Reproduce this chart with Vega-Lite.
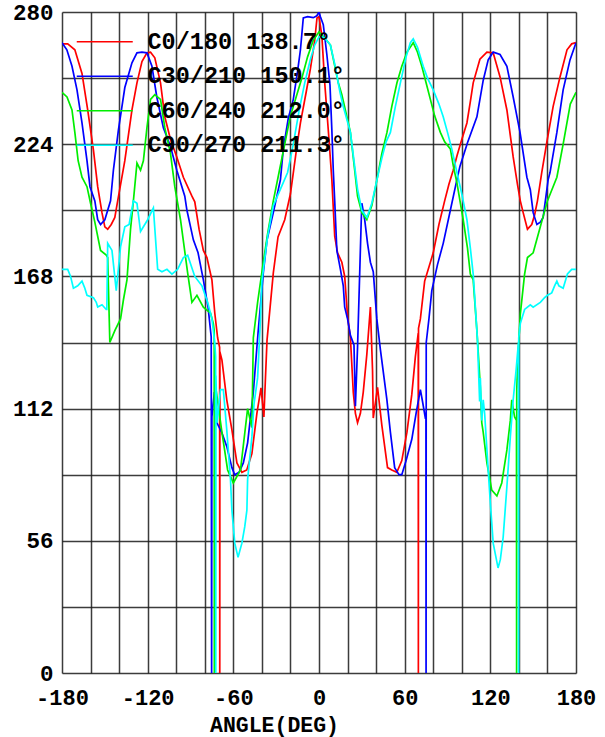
{
  "$schema": "https://vega.github.io/schema/vega-lite/v6.json",
  "width": 514,
  "height": 661,
  "autosize": {"type": "none"},
  "padding": {"left": 62, "top": 12, "right": 29, "bottom": 64},
  "background": "white",
  "config": {
    "view": {"stroke": null},
    "font": "Liberation Mono"
  },
  "datasets": {
    "red": [{"angle":-180,"value":266.5},{"angle":-176,"value":266.5},{"angle":-171,"value":264},{"angle":-166,"value":254},{"angle":-162,"value":238.5},{"angle":-158,"value":221.6},{"angle":-155,"value":206},{"angle":-152,"value":195},{"angle":-150,"value":189},{"angle":-148,"value":188},{"angle":-145.5,"value":190},{"angle":-143,"value":193},{"angle":-141,"value":200},{"angle":-136,"value":217},{"angle":-131,"value":238.5},{"angle":-127.5,"value":250},{"angle":-124,"value":259},{"angle":-120.5,"value":262.7},{"angle":-118,"value":263},{"angle":-115,"value":260.6},{"angle":-111,"value":250},{"angle":-108,"value":235.6},{"angle":-104,"value":226},{"angle":-99.6,"value":218.6},{"angle":-95,"value":210},{"angle":-89,"value":202},{"angle":-87,"value":199.6},{"angle":-84,"value":188},{"angle":-81,"value":179},{"angle":-78.5,"value":176},{"angle":-75,"value":166.5},{"angle":-73,"value":152.5},{"angle":-71,"value":142},{"angle":-69.6,"value":138},{"angle":-69.5,"value":0},{"angle":-69.4,"value":136},{"angle":-68,"value":132.6},{"angle":-64.6,"value":115.7},{"angle":-61,"value":103},{"angle":-57.5,"value":89},{"angle":-54,"value":85},{"angle":-50.6,"value":86},{"angle":-47,"value":93},{"angle":-43.5,"value":110},{"angle":-40.6,"value":120.8},{"angle":-38.6,"value":108.5},{"angle":-37.5,"value":125},{"angle":-36.4,"value":141},{"angle":-32,"value":169.5},{"angle":-28.7,"value":184.7},{"angle":-24,"value":192},{"angle":-20,"value":203},{"angle":-15.5,"value":223},{"angle":-13,"value":233},{"angle":-9,"value":246},{"angle":-6,"value":256},{"angle":-3,"value":268},{"angle":-1.4,"value":277.5},{"angle":0,"value":278},{"angle":2,"value":270},{"angle":4,"value":250},{"angle":7,"value":226},{"angle":9,"value":209},{"angle":11,"value":185},{"angle":13,"value":178},{"angle":16,"value":174},{"angle":18,"value":168},{"angle":20,"value":151},{"angle":22,"value":142},{"angle":24,"value":119},{"angle":25.5,"value":110},{"angle":27,"value":106},{"angle":29,"value":110},{"angle":31,"value":119},{"angle":33.5,"value":135},{"angle":36,"value":155},{"angle":37.5,"value":128},{"angle":38,"value":108},{"angle":41,"value":121},{"angle":44,"value":105},{"angle":48,"value":87},{"angle":51,"value":86},{"angle":54.5,"value":85},{"angle":58,"value":90},{"angle":61.6,"value":102},{"angle":65,"value":118},{"angle":67.5,"value":134},{"angle":69.5,"value":144},{"angle":69.6,"value":0},{"angle":69.7,"value":146},{"angle":71,"value":150},{"angle":74,"value":166},{"angle":77,"value":172},{"angle":80,"value":178},{"angle":84,"value":190},{"angle":88,"value":200},{"angle":91,"value":207},{"angle":94,"value":213},{"angle":96.6,"value":219},{"angle":100,"value":226},{"angle":103.6,"value":233},{"angle":106,"value":242},{"angle":108,"value":250},{"angle":112.7,"value":260},{"angle":117.6,"value":263},{"angle":122,"value":262.7},{"angle":126.8,"value":252.5},{"angle":131.6,"value":238.5},{"angle":136,"value":218.6},{"angle":139,"value":207},{"angle":141,"value":200},{"angle":143,"value":195},{"angle":146,"value":188},{"angle":149,"value":190},{"angle":151,"value":194},{"angle":153,"value":200},{"angle":156,"value":212},{"angle":159.6,"value":225},{"angle":164,"value":240},{"angle":168.8,"value":252.5},{"angle":173.7,"value":264},{"angle":177,"value":266.5},{"angle":180,"value":267}],
    "blue": [{"angle":-180,"value":267},{"angle":-176.6,"value":264},{"angle":-173,"value":257},{"angle":-169.5,"value":247},{"angle":-166,"value":233},{"angle":-162.5,"value":217},{"angle":-160.4,"value":206},{"angle":-157,"value":200},{"angle":-155,"value":192},{"angle":-153,"value":190},{"angle":-150,"value":192},{"angle":-146,"value":200},{"angle":-144,"value":213},{"angle":-140.5,"value":230},{"angle":-136,"value":248},{"angle":-131,"value":258.5},{"angle":-127.5,"value":262.7},{"angle":-124,"value":263},{"angle":-120.5,"value":262.7},{"angle":-117,"value":257},{"angle":-113.6,"value":244},{"angle":-109,"value":231},{"angle":-104,"value":223},{"angle":-99.6,"value":213},{"angle":-94,"value":202},{"angle":-92.5,"value":196},{"angle":-88,"value":183.5},{"angle":-84.7,"value":178},{"angle":-81,"value":166.5},{"angle":-77.7,"value":155},{"angle":-75.5,"value":142.4},{"angle":-75.2,"value":0},{"angle":-75,"value":108.5},{"angle":-73.3,"value":119},{"angle":-71.5,"value":106},{"angle":-68,"value":101.7},{"angle":-64.6,"value":96},{"angle":-61,"value":87},{"angle":-59,"value":84},{"angle":-56,"value":85},{"angle":-53,"value":89},{"angle":-50,"value":97.5},{"angle":-46,"value":119},{"angle":-42.7,"value":144},{"angle":-39,"value":169.5},{"angle":-36.4,"value":183.5},{"angle":-32,"value":195},{"angle":-27,"value":209},{"angle":-25,"value":222},{"angle":-21.5,"value":235},{"angle":-18,"value":243},{"angle":-15,"value":255},{"angle":-13,"value":264},{"angle":-11,"value":277.5},{"angle":-8,"value":278},{"angle":-4,"value":277.6},{"angle":-1.5,"value":278.4},{"angle":0,"value":280},{"angle":1,"value":278},{"angle":3,"value":274.6},{"angle":5.5,"value":262},{"angle":7.7,"value":249},{"angle":9,"value":230},{"angle":10,"value":213},{"angle":11,"value":200},{"angle":12.5,"value":179},{"angle":15,"value":171},{"angle":17,"value":164},{"angle":18,"value":155},{"angle":20,"value":150},{"angle":22,"value":143},{"angle":24.5,"value":139},{"angle":25.5,"value":113},{"angle":27,"value":138},{"angle":29.5,"value":190},{"angle":30,"value":199},{"angle":32,"value":192},{"angle":34,"value":182},{"angle":36,"value":174},{"angle":38,"value":170},{"angle":40.5,"value":150},{"angle":43,"value":137},{"angle":47.5,"value":116},{"angle":50,"value":102},{"angle":53,"value":87},{"angle":56,"value":84},{"angle":58,"value":84},{"angle":61,"value":90},{"angle":65,"value":99},{"angle":68,"value":110},{"angle":71,"value":120},{"angle":72.5,"value":115},{"angle":74.5,"value":108},{"angle":74.9,"value":108},{"angle":75,"value":0},{"angle":75.1,"value":140},{"angle":77,"value":150},{"angle":79,"value":162},{"angle":83,"value":173},{"angle":87,"value":182},{"angle":92,"value":196},{"angle":96.6,"value":209},{"angle":98.7,"value":214.6},{"angle":104,"value":224.6},{"angle":110.6,"value":235.6},{"angle":115,"value":251},{"angle":118.5,"value":259.7},{"angle":122,"value":263},{"angle":126.8,"value":262},{"angle":131.6,"value":257},{"angle":136,"value":244},{"angle":140.8,"value":229},{"angle":145.6,"value":210},{"angle":148,"value":204.7},{"angle":150,"value":195},{"angle":152.6,"value":190},{"angle":155,"value":191},{"angle":157,"value":193},{"angle":160.5,"value":209},{"angle":161.8,"value":212},{"angle":166.6,"value":229},{"angle":171,"value":247},{"angle":175.8,"value":259.7},{"angle":180,"value":267}],
    "green": [{"angle":-180,"value":246},{"angle":-176.5,"value":244},{"angle":-173,"value":238.5},{"angle":-171,"value":229},{"angle":-168.7,"value":217},{"angle":-166,"value":210},{"angle":-162.5,"value":206},{"angle":-160,"value":199},{"angle":-157,"value":191},{"angle":-153,"value":179},{"angle":-149,"value":177},{"angle":-148,"value":176},{"angle":-146.5,"value":140},{"angle":-143,"value":145},{"angle":-139,"value":150},{"angle":-137,"value":158},{"angle":-134.5,"value":166.5},{"angle":-132,"value":188},{"angle":-130,"value":200},{"angle":-127.5,"value":216},{"angle":-125,"value":213},{"angle":-123,"value":217},{"angle":-120.5,"value":231},{"angle":-118,"value":243},{"angle":-115,"value":245},{"angle":-111,"value":243},{"angle":-108,"value":231},{"angle":-104,"value":220},{"angle":-101,"value":206},{"angle":-97,"value":192},{"angle":-92,"value":169.5},{"angle":-89,"value":157},{"angle":-85.5,"value":160},{"angle":-81,"value":155},{"angle":-76,"value":152.5},{"angle":-74,"value":148},{"angle":-73.4,"value":145},{"angle":-73.3,"value":0},{"angle":-73.2,"value":130},{"angle":-73,"value":124},{"angle":-68,"value":102},{"angle":-64,"value":86},{"angle":-60,"value":80.5},{"angle":-55,"value":86},{"angle":-50,"value":112},{"angle":-47,"value":104},{"angle":-46,"value":142},{"angle":-43,"value":157},{"angle":-39,"value":174},{"angle":-36,"value":186},{"angle":-32,"value":200},{"angle":-28,"value":212},{"angle":-24,"value":224},{"angle":-20,"value":236},{"angle":-16,"value":244},{"angle":-12,"value":252},{"angle":-8,"value":261},{"angle":-4,"value":268},{"angle":0,"value":271.6},{"angle":4,"value":269},{"angle":8,"value":266},{"angle":13.5,"value":250},{"angle":16,"value":245},{"angle":19,"value":237},{"angle":22,"value":229},{"angle":25,"value":213},{"angle":27,"value":202},{"angle":30,"value":195},{"angle":33.5,"value":192},{"angle":37,"value":198},{"angle":40.6,"value":209},{"angle":44,"value":220},{"angle":47.6,"value":229},{"angle":51,"value":240},{"angle":54.6,"value":250},{"angle":58,"value":257},{"angle":61.6,"value":263},{"angle":66,"value":267},{"angle":69,"value":263},{"angle":72,"value":257},{"angle":75,"value":250},{"angle":78,"value":243},{"angle":81,"value":236},{"angle":85,"value":229},{"angle":88,"value":225},{"angle":92,"value":222},{"angle":94,"value":215},{"angle":96.6,"value":207.6},{"angle":101,"value":192},{"angle":104,"value":180},{"angle":106,"value":169},{"angle":108,"value":166.5},{"angle":110.6,"value":145},{"angle":113,"value":121},{"angle":114,"value":106},{"angle":115,"value":102},{"angle":117.6,"value":89},{"angle":121,"value":77.5},{"angle":124.6,"value":75},{"angle":128,"value":80.5},{"angle":131.6,"value":94.5},{"angle":134,"value":107},{"angle":135,"value":115.7},{"angle":137,"value":108.5},{"angle":138.3,"value":107},{"angle":138.4,"value":0},{"angle":138.5,"value":120},{"angle":139.5,"value":136},{"angle":141,"value":152},{"angle":144,"value":169},{"angle":146,"value":176},{"angle":150,"value":178},{"angle":155,"value":189},{"angle":160,"value":200},{"angle":162,"value":203},{"angle":166.6,"value":210},{"angle":171,"value":224},{"angle":176,"value":241},{"angle":180,"value":246}],
    "cyan": [{"angle":-180,"value":171},{"angle":-176,"value":171},{"angle":-174,"value":168},{"angle":-172,"value":163},{"angle":-169,"value":164},{"angle":-166,"value":166},{"angle":-164,"value":163},{"angle":-162.5,"value":160},{"angle":-158,"value":159},{"angle":-156,"value":157},{"angle":-155,"value":155},{"angle":-152,"value":156},{"angle":-149,"value":154},{"angle":-148.6,"value":154},{"angle":-148,"value":182},{"angle":-145,"value":179},{"angle":-142,"value":162},{"angle":-139,"value":180.5},{"angle":-136,"value":189},{"angle":-133,"value":190},{"angle":-130,"value":200},{"angle":-127.5,"value":199},{"angle":-125,"value":187},{"angle":-120,"value":192},{"angle":-116,"value":197},{"angle":-113,"value":171},{"angle":-110,"value":170},{"angle":-106.5,"value":171},{"angle":-103,"value":169},{"angle":-99,"value":171},{"angle":-95,"value":176},{"angle":-92,"value":177},{"angle":-87,"value":168},{"angle":-82,"value":164},{"angle":-78,"value":157},{"angle":-75,"value":150},{"angle":-73,"value":140},{"angle":-72.4,"value":134},{"angle":-72.3,"value":0},{"angle":-72.2,"value":126},{"angle":-71.4,"value":106},{"angle":-69,"value":120},{"angle":-67,"value":120},{"angle":-64.6,"value":103},{"angle":-62,"value":82},{"angle":-61,"value":69},{"angle":-59,"value":55},{"angle":-56.7,"value":49},{"angle":-54,"value":55},{"angle":-52,"value":62},{"angle":-50.5,"value":69},{"angle":-50,"value":82},{"angle":-47,"value":100},{"angle":-45.5,"value":114},{"angle":-43,"value":125},{"angle":-41,"value":150},{"angle":-40,"value":166},{"angle":-36,"value":185},{"angle":-32,"value":198},{"angle":-27,"value":205},{"angle":-22,"value":212},{"angle":-18,"value":224},{"angle":-14,"value":238},{"angle":-10,"value":250},{"angle":-6,"value":260},{"angle":-3,"value":266},{"angle":0,"value":269.5},{"angle":2,"value":269.5},{"angle":4,"value":269},{"angle":8,"value":266},{"angle":11,"value":258},{"angle":14.7,"value":246},{"angle":17,"value":240},{"angle":22,"value":229},{"angle":27,"value":205},{"angle":30,"value":196},{"angle":33.6,"value":193},{"angle":37,"value":199},{"angle":40.6,"value":209},{"angle":44,"value":218},{"angle":47,"value":225},{"angle":50,"value":229},{"angle":53.5,"value":240},{"angle":57,"value":250},{"angle":61,"value":261},{"angle":64,"value":267},{"angle":66,"value":268.6},{"angle":69,"value":265},{"angle":73,"value":257},{"angle":76,"value":252},{"angle":80,"value":247},{"angle":84,"value":241},{"angle":87,"value":235.6},{"angle":90,"value":229},{"angle":93,"value":222},{"angle":96.6,"value":212},{"angle":100,"value":203},{"angle":103.6,"value":192},{"angle":106,"value":180},{"angle":108,"value":169},{"angle":111,"value":141},{"angle":112.5,"value":115},{"angle":113,"value":125},{"angle":114,"value":107},{"angle":115,"value":115.7},{"angle":116,"value":110},{"angle":118.5,"value":86},{"angle":120,"value":72},{"angle":122,"value":55},{"angle":125.4,"value":44.5},{"angle":127,"value":48},{"angle":129,"value":57.6},{"angle":131.6,"value":79},{"angle":134,"value":100},{"angle":136,"value":115.7},{"angle":138,"value":128},{"angle":139.7,"value":140},{"angle":139.8,"value":0},{"angle":139.9,"value":142},{"angle":141,"value":148},{"angle":144,"value":154},{"angle":148,"value":156},{"angle":150,"value":155},{"angle":155,"value":157},{"angle":158,"value":159},{"angle":160,"value":160},{"angle":163,"value":161},{"angle":165,"value":164},{"angle":166.6,"value":166},{"angle":168,"value":164},{"angle":171,"value":163},{"angle":174,"value":169},{"angle":177,"value":171},{"angle":180,"value":171}]
  },
  "encoding": {
    "x": {
      "field": "angle", "type": "quantitative",
      "scale": {"domain": [-180, 180], "nice": false, "zero": false},
      "axis": {
        "values": [-180,-160,-140,-120,-100,-80,-60,-40,-20,0,20,40,60,80,100,120,140,160,180],
        "labelExpr": "datum.value % 60 == 0 ? '' + datum.value : ''",
        "title": "ANGLE(DEG)",
        "titleFont": "Liberation Mono", "titleFontWeight": "bold", "titleFontSize": 21.5, "titleColor": "black",
        "titleX": 212, "titleY": 58.5, "titleAlign": "center", "titleBaseline": "alphabetic", "titleAnchor": null,
        "labelFont": "Liberation Mono", "labelFontWeight": "bold", "labelFontSize": 22, "labelColor": "black",
        "labelPadding": 14, "labelFlush": false, "labelOverlap": false,
        "ticks": false, "domain": false,
        "grid": true, "gridColor": "#1a1a1a", "gridWidth": 1.5, "gridOpacity": 0.85
      }
    },
    "y": {
      "field": "value", "type": "quantitative",
      "scale": {"domain": [0, 280], "nice": false, "zero": true},
      "axis": {
        "values": [0,28,56,84,112,140,168,196,224,252,280],
        "labelExpr": "datum.value % 56 == 0 ? '' + datum.value : ''",
        "title": null,
        "labelFont": "Liberation Mono", "labelFontWeight": "bold", "labelFontSize": 22.5, "labelColor": "black",
        "labelPadding": 9, "labelFlush": false, "labelOverlap": false,
        "ticks": false, "domain": false,
        "grid": true, "gridColor": "#1a1a1a", "gridWidth": 1.5, "gridOpacity": 0.85
      }
    },
    "order": {"value": null}
  },
  "layer": [
    {"data": {"name": "red"}, "mark": {"type": "line", "color": "#ff0000", "strokeWidth": 1.7, "clip": true}},
    {"data": {"name": "blue"}, "mark": {"type": "line", "color": "#0000ff", "strokeWidth": 1.7, "clip": true}},
    {"data": {"name": "green"}, "mark": {"type": "line", "color": "#00ee00", "strokeWidth": 1.7, "clip": true}},
    {"data": {"name": "cyan"}, "mark": {"type": "line", "color": "#00ffff", "strokeWidth": 1.7, "clip": true}},
    {
      "data": {"values": [
        {"series": "C0/180 138.7°"},
        {"series": "C30/210 150.1°"},
        {"series": "C60/240 212.0°"},
        {"series": "C90/270 211.3°"}
      ]},
      "mark": {"type": "line", "opacity": 0},
      "encoding": {
        "x": {"datum": 0, "type": "quantitative"},
        "y": {"datum": 0, "type": "quantitative"},
        "stroke": {
          "field": "series", "type": "nominal",
          "scale": {"domain": ["C0/180 138.7°", "C30/210 150.1°", "C60/240 212.0°", "C90/270 211.3°"], "range": ["#ff0000", "#0000ff", "#00ee00", "#00ffff"]},
          "legend": {
            "orient": "none", "legendX": 31, "legendY": 18, "title": null, "padding": 0,
            "symbolType": "M-4,0H4", "symbolSize": 196, "symbolStrokeWidth": 1.7, "symbolOpacity": 1,
            "labelFont": "Liberation Mono", "labelFontSize": 23.5, "labelFontWeight": "bold", "labelColor": "black",
            "labelOffset": 31, "rowPadding": 9.5, "labelLimit": 400
          }
        }
      }
    }
  ]
}
